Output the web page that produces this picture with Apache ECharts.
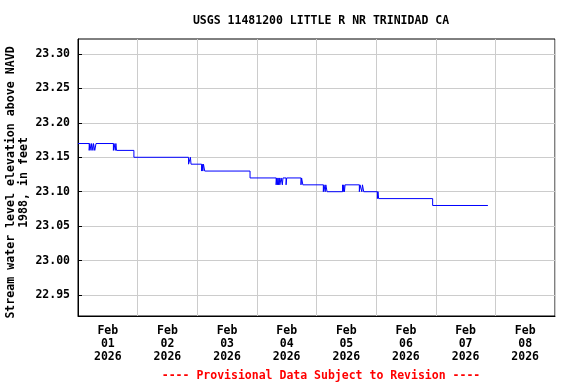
<!DOCTYPE html>
<html>
<head>
<meta charset="utf-8">
<script src="https://cdn.jsdelivr.net/npm/echarts@6/dist/echarts.min.js"></script>
<style>html,body{margin:0;padding:0;background:#fff}#chart{width:576px;height:384px}</style>
</head>
<body>
<div id="chart"></div>
<script>
const titleText = "USGS 11481200 LITTLE R NR TRINIDAD CA";
const footerText = "---- Provisional Data Subject to Revision ----";
const yAxisTitle = "Stream water level elevation above NAVD\n1988, in feet";

const dayMonths = ["Feb","Feb","Feb","Feb","Feb","Feb","Feb","Feb"];
const dayNumbers = ["01","02","03","04","05","06","07","08"];
const dayYears = ["2026","2026","2026","2026","2026","2026","2026","2026"];

const yTicks = [22.95, 23.00, 23.05, 23.10, 23.15, 23.20, 23.25, 23.30];

const stepTimes = [
  "2026-02-01 00:00","2026-02-01 04:30","2026-02-01 04:45","2026-02-01 05:15","2026-02-01 05:30",
  "2026-02-01 06:00","2026-02-01 06:15","2026-02-01 06:45","2026-02-01 07:15",
  "2026-02-01 14:15","2026-02-01 14:30","2026-02-01 15:00","2026-02-01 15:15","2026-02-01 15:30",
  "2026-02-01 22:30",
  "2026-02-02 20:30","2026-02-02 21:15","2026-02-02 21:30",
  "2026-02-03 01:45","2026-02-03 02:00","2026-02-03 02:15","2026-02-03 02:30","2026-02-03 03:00",
  "2026-02-03 21:15",
  "2026-02-04 07:45","2026-02-04 08:00","2026-02-04 08:15","2026-02-04 08:30","2026-02-04 08:45",
  "2026-02-04 09:00","2026-02-04 09:15","2026-02-04 09:45","2026-02-04 10:15","2026-02-04 10:30",
  "2026-02-04 11:45","2026-02-04 12:00",
  "2026-02-04 17:45","2026-02-04 18:00","2026-02-04 18:30",
  "2026-02-05 02:45","2026-02-05 03:00","2026-02-05 03:30","2026-02-05 03:45","2026-02-05 04:15",
  "2026-02-05 10:30","2026-02-05 10:45","2026-02-05 11:00","2026-02-05 11:15","2026-02-05 11:30",
  "2026-02-05 17:15","2026-02-05 17:30","2026-02-05 18:15","2026-02-05 18:30","2026-02-05 19:00",
  "2026-02-06 00:30","2026-02-06 00:45","2026-02-06 01:00",
  "2026-02-06 22:45",
  "2026-02-07 21:00"
];
const stepLevels = [
  23.17,23.16,23.17,23.16,23.17,
  23.16,23.17,23.16,23.17,
  23.16,23.17,23.16,23.17,23.16,
  23.15,
  23.14,23.15,23.14,
  23.13,23.14,23.13,23.14,23.13,
  23.12,
  23.11,23.12,23.11,23.12,23.11,
  23.12,23.11,23.12,23.11,23.12,
  23.11,23.12,
  23.11,23.12,23.11,
  23.10,23.11,23.10,23.11,23.10,
  23.11,23.10,23.11,23.10,23.11,
  23.10,23.11,23.10,23.11,23.10,
  23.09,23.10,23.09,
  23.08,
  23.08
];

const FONT = "'DejaVu Sans Mono', monospace";
const dayLabels = dayMonths.map((m, i) => m + "\n" + dayNumbers[i] + "\n" + dayYears[i]);
const seriesData = stepTimes.map((t, i) => [t, stepLevels[i]]);

const chart = echarts.init(document.getElementById('chart'), null, {renderer: 'canvas'});
chart.setOption({
  animation: false,
  backgroundColor: '#ffffff',
  title: [
    {text: titleText, left: 316, top: 10, textAlign: 'center',
     textStyle: {fontFamily: FONT, fontWeight: 'bold', fontSize: 11.5, color: '#000'}},
    {text: footerText, left: 316, top: 365, textAlign: 'center',
     textStyle: {fontFamily: FONT, fontWeight: 'bold', fontSize: 11.5, color: '#ff0000'}}
  ],
  graphic: [{
    type: 'text', x: 17, y: 182.5, rotation: Math.PI / 2,
    style: {text: yAxisTitle, align: 'center', verticalAlign: 'middle', lineHeight: 13,
            font: "bold 11.6px 'DejaVu Sans Mono', monospace", fill: '#000'}
  }],
  grid: {left: 78, top: 39, right: 21, bottom: 68, show: true, borderColor: '#000', borderWidth: 1,
         containLabel: false, outerBoundsMode: 'none'},
  xAxis: [
    {type: 'category', data: dayLabels, boundaryGap: true, position: 'bottom',
     axisLine: {show: true, lineStyle: {color: '#000', width: 1}},
     axisTick: {show: false},
     splitLine: {show: true, interval: 0, lineStyle: {color: '#cccccc', width: 1}},
     axisLabel: {interval: 0, margin: 9, fontFamily: FONT, fontWeight: 'bold', fontSize: 11.5, color: '#000', lineHeight: 13}},
    {type: 'time', min: '2026-02-01 00:00', max: '2026-02-09 00:00', show: false,
     splitLine: {show: false}}
  ],
  yAxis: {
    type: 'value', min: 22.9195, max: 23.3218,
    axisLine: {show: true, lineStyle: {color: '#000', width: 1}},
    axisTick: {show: true, inside: true, length: 4, customValues: yTicks, lineStyle: {color: '#000'}},
    axisLabel: {customValues: yTicks, margin: 8, formatter: v => v.toFixed(2),
      fontFamily: FONT, fontWeight: 'bold', fontSize: 11.5, color: '#000'},
    splitLine: {show: true, lineStyle: {color: '#cccccc', width: 1}}
  },
  series: [{
    type: 'line', xAxisIndex: 1, step: 'end', showSymbol: false, symbol: 'none',
    data: seriesData, lineStyle: {color: '#0000ff', width: 1}, itemStyle: {color: '#0000ff'}
  }]
});
</script>
</body>
</html>
